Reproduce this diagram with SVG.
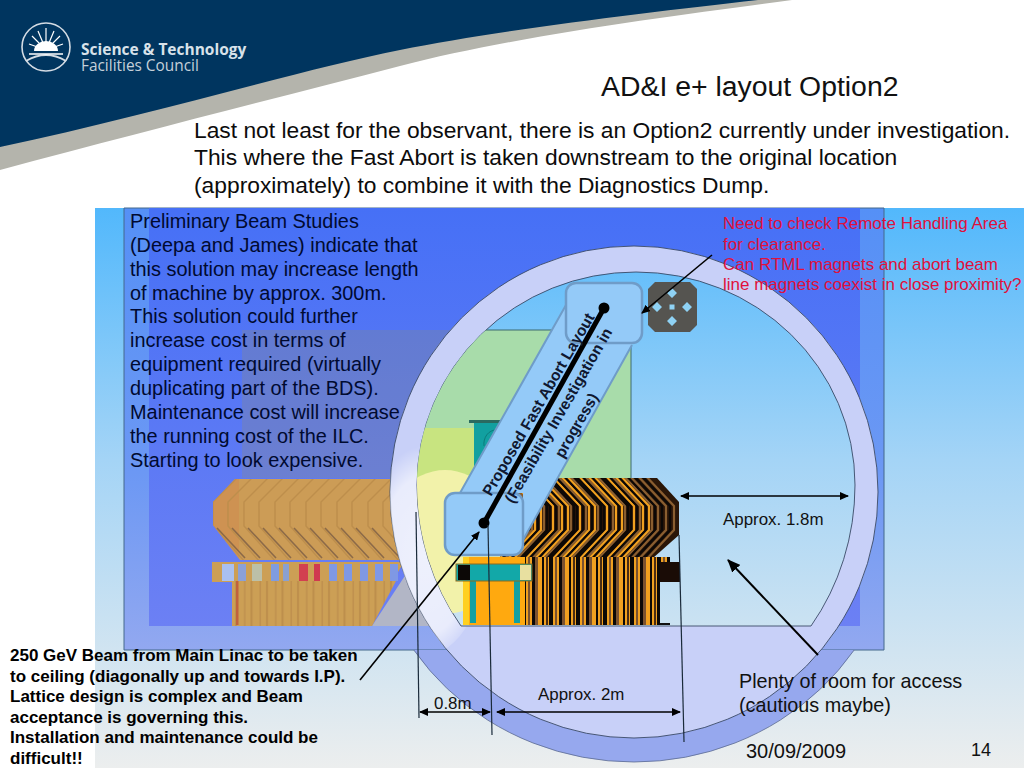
<svg xmlns="http://www.w3.org/2000/svg" xmlns:xlink="http://www.w3.org/1999/xlink" width="1024" height="768" viewBox="0 0 1024 768">
<style>
text{font-family:"Liberation Sans",Arial,sans-serif;fill:#000}
.para{font-size:22.8px;fill:#0c0c0c}
.left{font-size:19.9px;fill:#000a30}
.red{font-size:17px;fill:#e0103c}
.note{font-size:16.9px;fill:#111}
.big{font-size:19.8px;fill:#111}
.bold{font-size:17px;font-weight:bold}
.rot{font-size:15.5px;font-weight:bold;text-anchor:middle;fill:#101830}
.conn{stroke:#000;stroke-width:1.6;fill:none}
.thin{stroke:#1a2a3a;stroke-width:1.2;fill:none}
.edge{stroke:#3a4a66;stroke-width:.9}
.k{stroke:#0c0806}.o{stroke:#f0a020}.t{stroke:#8a5e30}
.s{fill:none;stroke-width:2.2}
.p{fill:none;stroke:#bd8e4c;stroke-width:1.4}
.pd{fill:none;stroke:#8c6a48;stroke-width:1.6}
.dm{fill:#8fd2f4}
</style>
<defs>
<linearGradient id="bg" gradientUnits="userSpaceOnUse" x1="0" y1="208" x2="0" y2="768"><stop offset="0" stop-color="#52b8fc"/><stop offset=".45" stop-color="#a4d4f6"/><stop offset="1" stop-color="#eceeee"/></linearGradient>
<linearGradient id="tun" gradientUnits="userSpaceOnUse" x1="0" y1="208" x2="0" y2="650"><stop offset="0" stop-color="#5590f6"/><stop offset=".6" stop-color="#6c98f4"/><stop offset="1" stop-color="#92a8f0"/></linearGradient>
<linearGradient id="inn" gradientUnits="userSpaceOnUse" x1="0" y1="208" x2="0" y2="626"><stop offset="0" stop-color="#4670f6"/><stop offset="1" stop-color="#6c80f4"/></linearGradient>
<radialGradient id="pale" cx=".5" cy=".55" r=".5"><stop offset="0" stop-color="#fff" stop-opacity=".7"/><stop offset=".72" stop-color="#fff" stop-opacity=".6"/><stop offset="1" stop-color="#fff" stop-opacity="0"/></radialGradient>
<marker id="ah" markerWidth="9" markerHeight="8" refX="8" refY="4" orient="auto-start-reverse" markerUnits="userSpaceOnUse"><path d="M0 0L9 4L0 8Z" fill="#000"/></marker>
<marker id="ah2" markerWidth="13" markerHeight="11" refX="12" refY="5.5" orient="auto-start-reverse" markerUnits="userSpaceOnUse"><path d="M0 0L13 5.5L0 11Z" fill="#000"/></marker>
<clipPath id="cav"><path d="M417 485A219 213 0 0 1 855 485A219 235 0 0 1 811 626L461 626A219 235 0 0 1 417 485Z"/></clipPath>
<clipPath id="ringc"><ellipse cx="634" cy="492" rx="244" ry="246"/></clipPath>
<clipPath id="below"><rect x="380" y="650" width="500" height="118"/></clipPath>
<clipPath id="rm"><path d="M520 478H657L679 502V535L653 558H500Z"/></clipPath>
<clipPath id="lm"><path d="M235 479H404V560H240L213 525V502Z"/></clipPath>
<polyline id="chev" points="0,474 30,506 30,530 0,562"/>
<polyline id="chevL" points="28,474 0,502 0,526 32,562"/>
<polyline id="chevLow" points="0,528 28,558"/>
<g id="chevset">
<use href="#chev" x="0" class="s k"/><use href="#chev" x="3" class="s o"/><use href="#chev" x="6" class="s k"/><use href="#chev" x="9" class="s t"/><use href="#chev" x="12" class="s o"/><use href="#chev" x="15" class="s k"/><use href="#chev" x="18" class="s o"/><use href="#chev" x="21" class="s t"/><use href="#chev" x="24" class="s k"/>
</g>
<pattern id="bars" patternUnits="userSpaceOnUse" x="522" y="0" width="27" height="10"><rect width="27" height="10" fill="#f0a020"/><rect width="4" height="10" fill="#0c0806"/><rect x="6" width="2" height="10" fill="#7a5230"/><rect x="10" width="3" height="10" fill="#0c0806"/><rect x="13" width="3" height="10" fill="#7a5230"/><rect x="20" width="2" height="10" fill="#0c0806"/><rect x="24" width="2" height="10" fill="#4a2c14"/></pattern>
<pattern id="bars2" patternUnits="userSpaceOnUse" x="232" y="0" width="15.500" height="10"><rect width="15.500" height="10" fill="#cc9f55"/><rect x="3" width="2" height="10" fill="#bd8e4c"/><rect x="12" width="1.500" height="10" fill="#bf904e"/></pattern>
</defs>

<rect id="page" width="1024" height="768" fill="#fff"/>
<g id="header">
<path d="M0 0H792C680 15 520 35 400 66S150 130 0 170Z" fill="#b4b4ac"/>
<path d="M0 0H758C650 12 500 30 400 50S150 115 0 147Z" fill="#00355f"/>
<g id="logo" fill="none" stroke="#d4dce4">
<circle cx="46" cy="47" r="24" stroke-width="1.600"/>
<path d="M46 50L46 28M46 50L38 31M46 50L54 31M46 50L32 36M46 50L60 36M46 50L29 44M46 50L63 44" stroke="#fff" stroke-width="1.200"/>
<path d="M34 51A12 10 0 0 1 58 51Z" fill="#fff" stroke="none"/>
<path d="M26 61Q46 49 66 61" stroke-width="1.800"/>
<path d="M29 54H63" stroke="#fff" stroke-width="1.400"/>
</g>
<text x="81" y="55" style="font-family:'Open Sans',sans-serif;font-weight:bold;font-size:15.500px;fill:#d8e2ea">Science &amp; Technology</text>
<text x="81" y="71" style="font-family:'Open Sans',sans-serif;font-size:15.400px;fill:#c4d0da">Facilities Council</text>
</g>

<rect id="panel" x="95" y="208" width="929" height="560" fill="url(#bg)"/>
<g id="tunnel">
<path d="M124 208H884V650H124Z" fill="url(#tun)" stroke="#44688c" stroke-width="1"/>
<rect x="149" y="208" width="711" height="418" fill="url(#inn)"/>
<rect x="242" y="330" width="250" height="148" fill="#8a8a80" opacity=".3"/>
</g>

<g id="leftMagnet">
<path d="M372 626L412 565L440 626Z" fill="#b2b6c6"/>
<rect x="213" y="479" width="192" height="82" fill="#cc9c56" clip-path="url(#lm)"/>
<g clip-path="url(#lm)">
<rect x="213" y="479" width="26" height="82" fill="#d0884e" opacity=".45"/>
<use href="#chevL" x="213" class="p"/><use href="#chevL" x="228" class="p"/><use href="#chevL" x="244" class="p"/><use href="#chevL" x="259" class="p"/><use href="#chevL" x="275" class="p"/><use href="#chevL" x="290" class="p"/><use href="#chevL" x="306" class="p"/><use href="#chevL" x="321" class="p"/><use href="#chevL" x="337" class="p"/><use href="#chevL" x="352" class="p"/><use href="#chevL" x="368" class="p"/><use href="#chevL" x="383" class="p"/>
<use href="#chevLow" x="217" class="pd"/><use href="#chevLow" x="232" class="pd"/><use href="#chevLow" x="248" class="pd"/><use href="#chevLow" x="263" class="pd"/><use href="#chevLow" x="279" class="pd"/><use href="#chevLow" x="294" class="pd"/><use href="#chevLow" x="310" class="pd"/><use href="#chevLow" x="325" class="pd"/><use href="#chevLow" x="341" class="pd"/><use href="#chevLow" x="356" class="pd"/><use href="#chevLow" x="372" class="pd"/>
</g>
<path d="M212 562H404L392 582H212Z" fill="#cc9f55"/>
<path d="M232 581H396L372 626H232Z" fill="url(#bars2)"/>
<rect x="236" y="581" width="2.500" height="44" fill="#c0623e"/>
<g id="leftBandBlocks">
<rect x="222" y="564" width="12" height="17" fill="#a9c0f0"/><rect x="238" y="564" width="8" height="17" fill="#8aa0d8"/><rect x="252" y="564" width="10" height="17" fill="#bcc0a8"/><rect x="271" y="564" width="8" height="17" fill="#7f9ce0"/><rect x="283" y="564" width="6" height="17" fill="#8aa0d0"/><rect x="299" y="564" width="9" height="17" fill="#d24050"/><rect x="314" y="564" width="6" height="17" fill="#d03a50"/><rect x="329" y="564" width="8" height="17" fill="#7f98e4"/><rect x="344" y="564" width="8" height="17" fill="#7f98e4"/><rect x="360" y="564" width="8" height="17" fill="#7f98e4"/><rect x="375" y="564" width="8" height="17" fill="#7f98e4"/><rect x="390" y="564" width="8" height="17" fill="#7f98e4"/>
</g>
</g>

<g id="tube">
<ellipse cx="634" cy="512" rx="264" ry="250" fill="#96a8ee" stroke="#5a6a90" stroke-width=".8" clip-path="url(#below)"/>
<ellipse cx="634" cy="492" rx="244" ry="246" fill="#c8d0f8" stroke="#3a4a66" stroke-width=".9"/>
<ellipse cx="425" cy="545" rx="62" ry="110" fill="url(#pale)" clip-path="url(#ringc)"/>
<path d="M417 485A219 213 0 0 1 855 485A219 235 0 0 1 811 626L461 626A219 235 0 0 1 417 485Z" fill="url(#bg)" class="edge"/>
</g>

<g id="shieldBlock" clip-path="url(#cav)">
<rect x="417" y="330" width="214" height="150" fill="#a8dcaa"/>
<rect x="417" y="428" width="90" height="60" fill="#c8e480"/>
<ellipse cx="445" cy="542" rx="62" ry="72" fill="#f2f2aa"/>
<path d="M417 330H631V478" fill="none" stroke="#3c6a70" stroke-width="1"/>
</g>
<g id="pipe">
<rect x="474" y="421" width="30" height="60" fill="#12a0a0"/>
<rect x="469" y="420" width="36" height="3" fill="#2a6a60"/>
<path d="M496 430A12 14 0 0 0 484 446" fill="none" stroke="#0c7c7c" stroke-width="1"/>
</g>

<g id="rightMagnet">
<g clip-path="url(#rm)">
<rect x="490" y="478" width="200" height="82" fill="#2a1608"/>
<use href="#chevset" x="493"/><use href="#chevset" x="520"/><use href="#chevset" x="547"/><use href="#chevset" x="574"/><use href="#chevset" x="601"/>
<use href="#chev" x="628" class="s t"/><use href="#chev" x="632" class="s k"/><use href="#chev" x="636" class="s t"/><use href="#chev" x="640" class="s k"/><use href="#chev" x="644" class="s t"/>
</g>
<rect x="524" y="557" width="146" height="6" fill="url(#bars)"/>
<rect x="524" y="563" width="156" height="19" fill="url(#bars)"/>
<rect x="660" y="562" width="20" height="20" fill="#1a0c06"/>
<rect x="522" y="582" width="138" height="43" fill="url(#bars)"/>
<rect x="660" y="623" width="10" height="2" fill="#111"/>
</g>

<g id="centerBlock">
<rect x="463" y="557" width="62" height="68" fill="#ffa90f"/>
<rect x="463" y="557" width="6" height="68" fill="#ffd020"/>
<rect x="470" y="581" width="6" height="42" fill="#12a0a0"/>
<rect x="514" y="581" width="6" height="42" fill="#12a0a0"/>
<rect x="456" y="564" width="76" height="17" fill="#12a8a8" stroke="#8a6a20" stroke-width="1"/>
<rect x="458" y="565" width="12" height="15" fill="#0c0806"/>
<rect x="520" y="565" width="11" height="15" fill="#e8e0a0"/>
</g>

<g id="fastAbortDuct">
<path d="M566 305L460 493H523V540L632 345V305Z" fill="#94caf8"/>
<path d="M566 305L460 493M632 345L523 540" fill="none" stroke="#6f9cc8" stroke-width="2"/>
<rect x="566" y="283" width="76" height="60" rx="10" fill="#94caf8" stroke="#6f9cc8" stroke-width="2.500"/>
<rect x="445" y="493" width="78" height="62" rx="10" fill="#94caf8" stroke="#6f9cc8" stroke-width="2.500"/>
<path d="M604 308L484 523" stroke="#000" stroke-width="5" fill="none"/>
<circle cx="604" cy="308" r="5.500" fill="#000"/><circle cx="484" cy="523" r="5.500" fill="#000"/>
<text class="rot" transform="translate(543 407) rotate(-60)">Proposed Fast Abort Layout</text>
<text class="rot" transform="translate(563 418) rotate(-60)">(Feasibility Investigation in</text>
<text class="rot" transform="translate(581 428) rotate(-60)">progress)</text>
</g>

<g id="rtmlMagnet">
<path d="M655 282H690L697 289V325L690 332H655L648 325V289Z" fill="#555450"/>
<path class="dm" d="M672 288L677 293L672 298L667 293ZM672 316L677 321L672 326L667 321ZM657 302L662 307L657 312L652 307ZM687 302L692 307L687 312L682 307Z"/>
<rect x="669.500" y="304.500" width="5" height="5" class="dm"/>
</g>

<g id="connectors">
<line class="conn" x1="360" y1="680" x2="479" y2="532" marker-end="url(#ah)"/>
<line class="conn" x1="712" y1="255" x2="642" y2="313" marker-end="url(#ah)"/>
<line class="conn" x1="818" y1="655" x2="728" y2="560" style="stroke-width:2" marker-end="url(#ah2)"/>
<line class="conn" x1="681" y1="496" x2="848" y2="496" marker-start="url(#ah)" marker-end="url(#ah)"/>
<line class="conn" x1="420" y1="712" x2="490" y2="712" marker-start="url(#ah)" marker-end="url(#ah)"/>
<line class="conn" x1="497" y1="712" x2="680" y2="712" marker-start="url(#ah)" marker-end="url(#ah)"/>
<line class="thin" x1="416" y1="512" x2="419" y2="718"/>
<line class="thin" x1="488" y1="525" x2="492" y2="735"/>
<line class="thin" x1="679" y1="535" x2="684" y2="742"/>
</g>

<g id="labels">
<text x="601" y="96" style="font-size:28.400px;fill:#111">AD&amp;I e+ layout Option2</text>
<text class="para" x="194" y="138">Last not least for the observant, there is an Option2 currently under investigation.</text>
<text class="para" x="194" y="165">This where the Fast Abort is taken downstream to the original location</text>
<text class="para" x="194" y="193">(approximately) to combine it with the Diagnostics Dump.</text>
<text class="left" x="130" y="228">Preliminary Beam Studies</text>
<text class="left" x="130" y="252">(Deepa and James) indicate that</text>
<text class="left" x="130" y="276">this solution may increase length</text>
<text class="left" x="130" y="300">of machine by approx. 300m.</text>
<text class="left" x="130" y="323">This solution could further</text>
<text class="left" x="130" y="347">increase cost in terms of</text>
<text class="left" x="130" y="371">equipment required (virtually</text>
<text class="left" x="130" y="395">duplicating part of the BDS).</text>
<text class="left" x="130" y="419">Maintenance cost will increase</text>
<text class="left" x="130" y="443">the running cost of the ILC.</text>
<text class="left" x="130" y="467">Starting to look expensive.</text>
<text class="red" x="723" y="229">Need to check Remote Handling Area</text>
<text class="red" x="723" y="250">for clearance.</text>
<text class="red" x="723" y="270">Can RTML magnets and  abort beam</text>
<text class="red" x="723" y="290">line magnets coexist in close proximity?</text>
<text class="bold" x="10" y="661">250 GeV Beam from Main Linac to be taken</text>
<text class="bold" x="10" y="682">to ceiling (diagonally up and towards I.P).</text>
<text class="bold" x="10" y="702">Lattice design is complex and Beam</text>
<text class="bold" x="10" y="723">acceptance is governing this.</text>
<text class="bold" x="10" y="743">Installation and maintenance could be</text>
<text class="bold" x="10" y="764">difficult!!</text>
<text class="note" x="723" y="525">Approx. 1.8m</text>
<text class="note" x="538" y="700">Approx. 2m</text>
<text class="note" x="434" y="709">0.8m</text>
<text class="big" x="739" y="688">Plenty of room for access</text>
<text class="big" x="739" y="712">(cautious maybe)</text>
<text x="746" y="758" style="font-size:20px;fill:#111">30/09/2009</text>
<text x="971" y="756" style="font-size:18px;fill:#111">14</text>
</g>
</svg>
